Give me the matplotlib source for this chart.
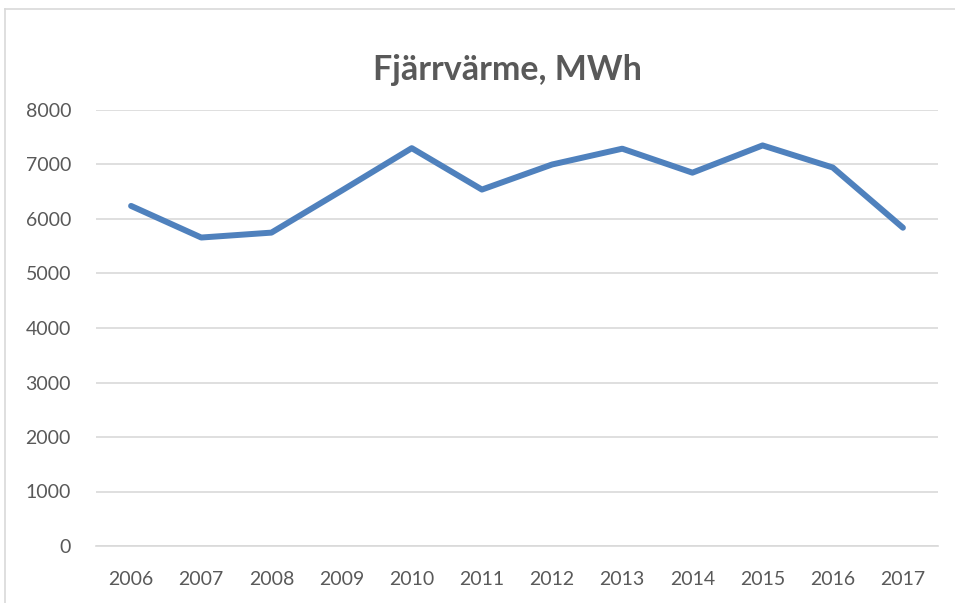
import matplotlib
matplotlib.use("Agg")
import matplotlib.pyplot as plt
from matplotlib.lines import Line2D

years = ["2006", "2007", "2008", "2009", "2010", "2011", "2012", "2013", "2014", "2015", "2016", "2017"]
values = [6240, 5660, 5750, 6520, 7300, 6540, 7000, 7290, 6850, 7350, 6945, 5840]
yticks = [0, 1000, 2000, 3000, 4000, 5000, 6000, 7000, 8000]
title = "Fjärrvärme, MWh"

plt.rcParams['font.family'] = ['Lato', 'DejaVu Sans']

fig = plt.figure(figsize=(9.55, 6.03), dpi=100)
W, H = 955, 603
ax = fig.add_axes([96 / W, 57 / H, (938 - 96) / W, (546 - 110) / H])

x = list(range(len(years)))
ax.plot(x, values, color="#4F81BD", linewidth=4.3, solid_capstyle="round", solid_joinstyle="round", zorder=3)

ax.set_xlim(-0.5, len(years) - 0.5)
ax.set_ylim(0, 8000)
ax.set_yticks(yticks)
ax.set_yticklabels([str(v) for v in yticks])
ax.set_xticks(x)
ax.set_xticklabels(years)
ax.grid(axis="y", color="#d9d9d9", linewidth=1.2, zorder=0)
ax.tick_params(axis="both", length=0, colors="#595959", labelsize=14)
ax.tick_params(axis="y", pad=18)
ax.tick_params(axis="x", pad=18)
for s in ["top", "right", "left"]:
    ax.spines[s].set_visible(False)
ax.spines["bottom"].set_color("#d9d9d9")
ax.spines["bottom"].set_linewidth(1.2)

fig.text(507 / W, 1 - 70 / H, title, ha="center", va="center", fontsize=24.5,
         fontweight="bold", color="#595959")

# chart border (left and top visible)
fig.add_artist(Line2D([5 / W, 5 / W], [0, 1 - 9 / H], transform=fig.transFigure, color="#d9d9d9", linewidth=1.2))
fig.add_artist(Line2D([5 / W, 1], [1 - 9 / H, 1 - 9 / H], transform=fig.transFigure, color="#d9d9d9", linewidth=1.2))

fig.savefig("out.png", dpi=100, facecolor="white")
